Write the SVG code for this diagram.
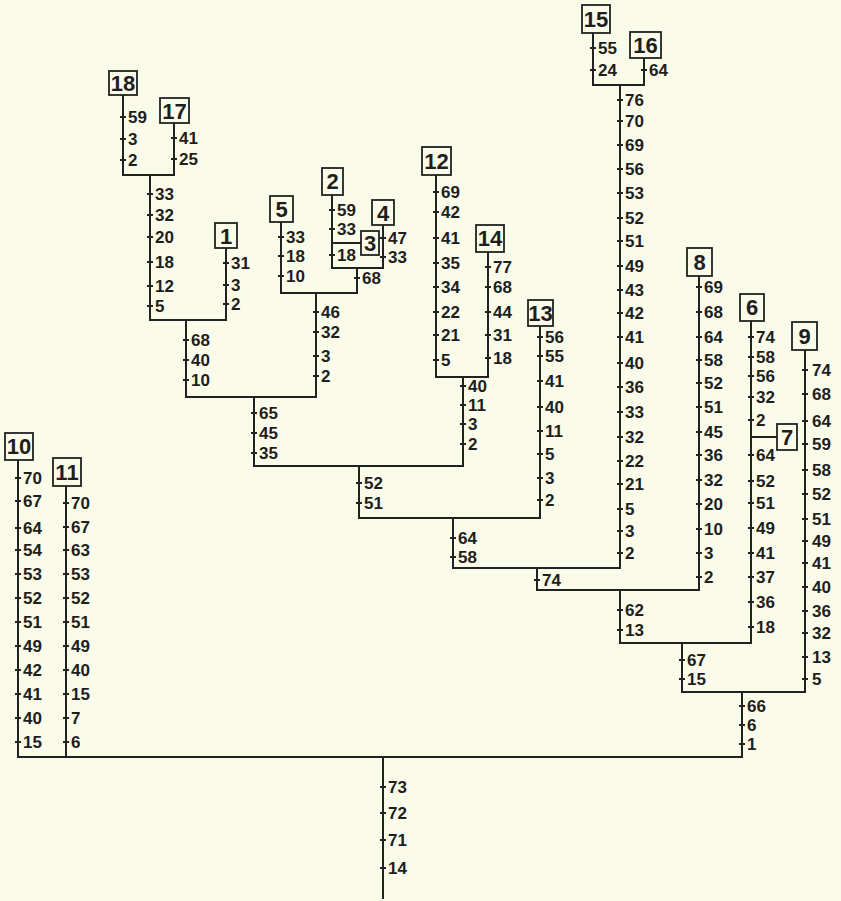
<svg xmlns="http://www.w3.org/2000/svg" width="841" height="901" viewBox="0 0 841 901">
<style>
.ln{stroke:#222;stroke-width:2;fill:none;stroke-linecap:square}
.tk{stroke:#222;stroke-width:2;fill:none}
.lb{font-family:"Liberation Sans",Arial,sans-serif;font-weight:bold;font-size:17px;fill:#1e1e1e}
.bx{fill:#fbfbe9;stroke:#222;stroke-width:1.8}
.bt{font-family:"Liberation Sans",Arial,sans-serif;font-weight:bold;font-size:22px;fill:#1e1e1e;text-anchor:middle}
</style>
<rect width="841" height="901" fill="#fbfbe9"/>
<g id="connectors">
<path class="ln" d="M383 757V898 M18 757H742 M18 460V757 M66 486V757 M742 692V757 M682 692H805 M805 350V692 M682 643V692 M620 643H751 M751 321V643 M751 437H777 M620 590V643 M537 590H699 M699 276V590 M537 568V590 M453 568H620 M620 85V568 M593 85H644 M593 33V85 M644 58V85 M453 518V568 M359 518H540 M540 326V518 M359 466V518 M254 466H463 M463 377V466 M436 377H488 M436 175V377 M488 252V377 M254 397V466 M186 397H316 M186 320V397 M150 320H226 M150 175V320 M123 175H174 M123 95V175 M174 123V175 M226 248V320 M316 293V397 M281 293H357 M281 222V293 M357 268V293 M332 268H383 M332 195V268 M332 243H361 M383 225V268"/>
<path class="tk" d="M380 787h6M380 813h6M380 840h6M380 868h6
M15 478h6M15 501h6M15 528h6M15 550h6M15 574h6M15 598h6M15 622h6M15 646h6M15 670h6M15 694h6M15 718h6M15 742h6
M63 503h6M63 527h6M63 550h6M63 574h6M63 598h6M63 622h6M63 646h6M63 670h6M63 694h6M63 718h6M63 742h6
M739 706h6M739 725h6M739 744h6
M802 370h6M802 394h6M802 421h6M802 444h6M802 470h6M802 494h6M802 519h6M802 541h6M802 563h6M802 587h6M802 611h6M802 633h6M802 657h6M802 679h6
M679 660h6M679 679h6
M748 337h6M748 357h6M748 376h6M748 397h6M748 420h6M748 455h6M748 481h6M748 503h6M748 528h6M748 553h6M748 577h6M748 602h6M748 627h6
M617 610h6M617 630h6
M696 287h6M696 312h6M696 337h6M696 360h6M696 383h6M696 407h6M696 432h6M696 455h6M696 480h6M696 504h6M696 529h6M696 553h6M696 577h6
M534 580h6
M617 100h6M617 121h6M617 145h6M617 169h6M617 193h6M617 218h6M617 241h6M617 266h6M617 290h6M617 313h6M617 337h6M617 363h6M617 387h6M617 412h6M617 437h6M617 461h6M617 484h6M617 509h6M617 531h6M617 553h6
M590 48h6M590 70h6M641 70h6
M450 538h6M450 557h6
M537 337h6M537 356h6M537 381h6M537 407h6M537 431h6M537 454h6M537 478h6M537 500h6
M356 483h6M356 503h6
M460 386h6M460 405h6M460 424h6M460 444h6
M433 192h6M433 212h6M433 238h6M433 263h6M433 287h6M433 312h6M433 335h6M433 360h6
M485 267h6M485 287h6M485 312h6M485 335h6M485 358h6
M251 413h6M251 433h6M251 453h6
M183 340h6M183 360h6M183 380h6
M147 194h6M147 215h6M147 237h6M147 262h6M147 286h6M147 306h6
M120 117h6M120 139h6M120 160h6
M171 138h6M171 159h6
M223 263h6M223 285h6M223 304h6
M313 312h6M313 332h6M313 356h6M313 376h6
M278 237h6M278 256h6M278 276h6
M354 278h6
M329 210h6M329 229h6M329 255h6
M380 238h6M380 257h6"/>
</g>
<g id="characters" class="lb">
<text x="388" y="793">73</text><text x="388" y="819">72</text><text x="388" y="846">71</text><text x="388" y="874">14</text>
<text x="23" y="484">70</text><text x="23" y="507">67</text><text x="23" y="534">64</text><text x="23" y="556">54</text><text x="23" y="580">53</text><text x="23" y="604">52</text><text x="23" y="628">51</text><text x="23" y="652">49</text><text x="23" y="676">42</text><text x="23" y="700">41</text><text x="23" y="724">40</text><text x="23" y="748">15</text>
<text x="71" y="509">70</text><text x="71" y="533">67</text><text x="71" y="556">63</text><text x="71" y="580">53</text><text x="71" y="604">52</text><text x="71" y="628">51</text><text x="71" y="652">49</text><text x="71" y="676">40</text><text x="71" y="700">15</text><text x="71" y="724">7</text><text x="71" y="748">6</text>
<text x="747" y="712">66</text><text x="747" y="731">6</text><text x="747" y="750">1</text>
<text x="812" y="376">74</text><text x="812" y="400">68</text><text x="812" y="427">64</text><text x="812" y="450">59</text><text x="812" y="476">58</text><text x="812" y="500">52</text><text x="812" y="525">51</text><text x="812" y="547">49</text><text x="812" y="569">41</text><text x="812" y="593">40</text><text x="812" y="617">36</text><text x="812" y="639">32</text><text x="812" y="663">13</text><text x="812" y="685">5</text>
<text x="687" y="666">67</text><text x="687" y="685">15</text>
<text x="756" y="343">74</text><text x="756" y="363">58</text><text x="756" y="382">56</text><text x="756" y="403">32</text><text x="756" y="426">2</text>
<text x="756" y="461">64</text><text x="756" y="487">52</text><text x="756" y="509">51</text><text x="756" y="534">49</text><text x="756" y="559">41</text><text x="756" y="583">37</text><text x="756" y="608">36</text><text x="756" y="633">18</text>
<text x="625" y="616">62</text><text x="625" y="636">13</text>
<text x="704" y="293">69</text><text x="704" y="318">68</text><text x="704" y="343">64</text><text x="704" y="366">58</text><text x="704" y="389">52</text><text x="704" y="413">51</text><text x="704" y="438">45</text><text x="704" y="461">36</text><text x="704" y="486">32</text><text x="704" y="510">20</text><text x="704" y="535">10</text><text x="704" y="559">3</text><text x="704" y="583">2</text>
<text x="542" y="586">74</text>
<text x="625" y="106">76</text><text x="625" y="127">70</text><text x="625" y="151">69</text><text x="625" y="175">56</text><text x="625" y="199">53</text><text x="625" y="224">52</text><text x="625" y="247">51</text><text x="625" y="272">49</text><text x="625" y="296">43</text><text x="625" y="319">42</text><text x="625" y="343">41</text><text x="625" y="369">40</text><text x="625" y="393">36</text><text x="625" y="418">33</text><text x="625" y="443">32</text><text x="625" y="467">22</text><text x="625" y="490">21</text><text x="625" y="515">5</text><text x="625" y="537">3</text><text x="625" y="559">2</text>
<text x="598" y="54">55</text><text x="598" y="76">24</text><text x="649" y="76">64</text>
<text x="458" y="544">64</text><text x="458" y="563">58</text>
<text x="545" y="343">56</text><text x="545" y="362">55</text><text x="545" y="387">41</text><text x="545" y="413">40</text><text x="545" y="437">11</text><text x="545" y="460">5</text><text x="545" y="484">3</text><text x="545" y="506">2</text>
<text x="364" y="489">52</text><text x="364" y="509">51</text>
<text x="468" y="392">40</text><text x="468" y="411">11</text><text x="468" y="430">3</text><text x="468" y="450">2</text>
<text x="441" y="198">69</text><text x="441" y="218">42</text><text x="441" y="244">41</text><text x="441" y="269">35</text><text x="441" y="293">34</text><text x="441" y="318">22</text><text x="441" y="341">21</text><text x="441" y="366">5</text>
<text x="493" y="273">77</text><text x="493" y="293">68</text><text x="493" y="318">44</text><text x="493" y="341">31</text><text x="493" y="364">18</text>
<text x="259" y="419">65</text><text x="259" y="439">45</text><text x="259" y="459">35</text>
<text x="191" y="346">68</text><text x="191" y="366">40</text><text x="191" y="386">10</text>
<text x="155" y="200">33</text><text x="155" y="221">32</text><text x="155" y="243">20</text><text x="155" y="268">18</text><text x="155" y="292">12</text><text x="155" y="312">5</text>
<text x="128" y="123">59</text><text x="128" y="145">3</text><text x="128" y="166">2</text>
<text x="179" y="144">41</text><text x="179" y="165">25</text>
<text x="231" y="269">31</text><text x="231" y="291">3</text><text x="231" y="310">2</text>
<text x="321" y="318">46</text><text x="321" y="338">32</text><text x="321" y="362">3</text><text x="321" y="382">2</text>
<text x="286" y="243">33</text><text x="286" y="262">18</text><text x="286" y="282">10</text>
<text x="362" y="284">68</text>
<text x="337" y="216">59</text><text x="337" y="235">33</text><text x="337" y="261">18</text>
<text x="388" y="244">47</text><text x="388" y="263">33</text>
</g>
<g id="node-18"><rect class="bx" x="109" y="71" width="28" height="24"/><text class="bt" x="123" y="91">18</text></g>
<g id="node-17"><rect class="bx" x="160" y="98" width="29" height="25"/><text class="bt" x="174.5" y="119">17</text></g>
<g id="node-1"><rect class="bx" x="215" y="223" width="22" height="25"/><text class="bt" x="226" y="244">1</text></g>
<g id="node-5"><rect class="bx" x="270" y="196" width="23" height="26"/><text class="bt" x="281.5" y="217">5</text></g>
<g id="node-2"><rect class="bx" x="322" y="168" width="21" height="27"/><text class="bt" x="332.5" y="189">2</text></g>
<g id="node-3"><rect class="bx" x="361" y="231" width="18" height="24"/><text class="bt" x="370" y="251">3</text></g>
<g id="node-4"><rect class="bx" x="372" y="200" width="22" height="25"/><text class="bt" x="383" y="221">4</text></g>
<g id="node-12"><rect class="bx" x="422" y="147" width="29" height="28"/><text class="bt" x="436.5" y="169">12</text></g>
<g id="node-14"><rect class="bx" x="476" y="225" width="28" height="27"/><text class="bt" x="490" y="246">14</text></g>
<g id="node-13"><rect class="bx" x="528" y="300" width="25" height="26"/><text class="bt" x="540.5" y="321">13</text></g>
<g id="node-15"><rect class="bx" x="582" y="5" width="28" height="28"/><text class="bt" x="596" y="27">15</text></g>
<g id="node-16"><rect class="bx" x="630" y="32" width="31" height="26"/><text class="bt" x="645.5" y="53">16</text></g>
<g id="node-8"><rect class="bx" x="687" y="248" width="25" height="28"/><text class="bt" x="699.5" y="270">8</text></g>
<g id="node-6"><rect class="bx" x="740" y="294" width="24" height="27"/><text class="bt" x="752" y="315">6</text></g>
<g id="node-7"><rect class="bx" x="777" y="424" width="20" height="26"/><text class="bt" x="787" y="445">7</text></g>
<g id="node-9"><rect class="bx" x="792" y="322" width="25" height="28"/><text class="bt" x="804.5" y="344">9</text></g>
<g id="node-10"><rect class="bx" x="5" y="433" width="28" height="27"/><text class="bt" x="19" y="454">10</text></g>
<g id="node-11"><rect class="bx" x="53" y="458" width="28" height="28"/><text class="bt" x="67" y="480">11</text></g>
</svg>
